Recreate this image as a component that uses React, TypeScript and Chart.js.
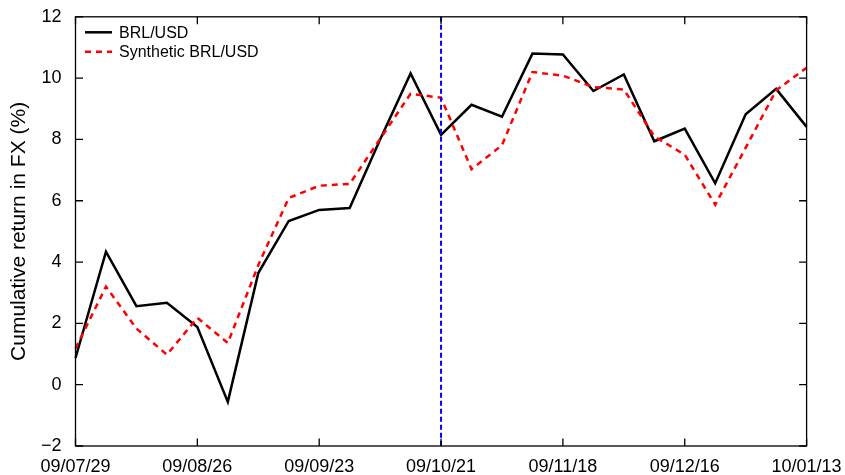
import React, { useEffect, useRef } from 'react';
import { Chart, registerables } from 'chart.js';

Chart.register(...registerables);

const dates = [
  '09/07/29', '09/08/05', '09/08/12', '09/08/19', '09/08/26', '09/09/02', '09/09/09',
  '09/09/16', '09/09/23', '09/09/30', '09/10/07', '09/10/14', '09/10/21', '09/10/28',
  '09/11/04', '09/11/11', '09/11/18', '09/11/25', '09/12/02', '09/12/09', '09/12/16',
  '09/12/23', '09/12/30', '10/01/06', '10/01/13',
];
const tickEvery = 4;

const brlUsd = [
  0.87, 4.34, 2.56, 2.67, 1.88, -0.56, 3.64, 5.34, 5.70, 5.76, 8.0, 10.15, 8.15, 9.13,
  8.74, 10.8, 10.77, 9.58, 10.12, 7.94, 8.35, 6.57, 8.82, 9.65, 8.41,
];
const syntheticBrlUsd = [
  1.18, 3.2, 1.83, 0.98, 2.18, 1.36, 3.9, 6.09, 6.49, 6.55, 8.02, 9.49, 9.36, 7.03,
  7.81, 10.2, 10.08, 9.71, 9.63, 8.1, 7.5, 5.87, 7.73, 9.6, 10.34,
];
const seriesLabels = ['BRL/USD', 'Synthetic BRL/USD'];
const eventDate = '09/10/21';
const yMin = -2;
const yMax = 12;
const yStep = 2;
const yTitle = 'Cumulative return in FX (%)';

const FONT = '"Liberation Sans", Arial, Helvetica, sans-serif';

const framePlugin = {
  id: 'frame',
  afterDatasetsDraw(chart: any) {
    const { ctx, chartArea: a, scales } = chart;
    const xs = scales.x;
    const ys = scales.y;
    ctx.save();
    // event vertical line
    const ex = xs.getPixelForValue(dates.indexOf(eventDate));
    ctx.strokeStyle = '#0000ff';
    ctx.lineWidth = 2;
    ctx.setLineDash([5, 3]);
    ctx.beginPath();
    ctx.moveTo(ex, a.top);
    ctx.lineTo(ex, a.bottom);
    ctx.stroke();
    ctx.setLineDash([]);

    // box
    ctx.strokeStyle = '#000';
    ctx.lineWidth = 1.3;
    ctx.strokeRect(a.left, a.top, a.right - a.left, a.bottom - a.top);

    // inward ticks
    const tl = 7.5;
    ctx.beginPath();
    ys.ticks.forEach((t: any) => {
      const y = ys.getPixelForValue(t.value);
      ctx.moveTo(a.left, y);
      ctx.lineTo(a.left + tl, y);
      ctx.moveTo(a.right, y);
      ctx.lineTo(a.right - tl, y);
    });
    dates.forEach((_, i) => {
      if (i % tickEvery !== 0) return;
      const x = xs.getPixelForValue(i);
      ctx.moveTo(x, a.bottom);
      ctx.lineTo(x, a.bottom - tl);
      ctx.moveTo(x, a.top);
      ctx.lineTo(x, a.top + tl);
    });
    ctx.stroke();

    // legend
    const lx0 = a.left + 9.5;
    const lx1 = a.left + 36.5;
    const tx = a.left + 43.5;
    const rows = [a.top + 15.5, a.top + 35];
    ctx.font = `16px ${FONT}`;
    ctx.textBaseline = 'middle';
    ctx.textAlign = 'left';
    chart.data.datasets.forEach((ds: any, i: number) => {
      const y = rows[i];
      ctx.strokeStyle = ds.borderColor;
      ctx.lineWidth = ds.borderWidth;
      ctx.setLineDash(ds.borderDash || []);
      ctx.beginPath();
      ctx.moveTo(lx0, y);
      ctx.lineTo(lx1, y);
      ctx.stroke();
      ctx.setLineDash([]);
      ctx.fillStyle = '#000';
      ctx.fillText(ds.label, tx, y + 1);
    });
    ctx.restore();
  },
};

export default function App() {
  const ref = useRef<HTMLCanvasElement | null>(null);
  useEffect(() => {
    document.body.style.margin = '0';
    const canvas = ref.current;
    if (!canvas) return;
    const chart = new Chart(canvas, {
      type: 'line',
      data: {
        labels: dates,
        datasets: [
          {
            label: seriesLabels[0],
            data: brlUsd,
            borderColor: '#000000',
            borderWidth: 2.5,
            pointRadius: 0,
            tension: 0,
            fill: false,
            order: 1,
          },
          {
            label: seriesLabels[1],
            data: syntheticBrlUsd,
            borderColor: '#ff0000',
            borderWidth: 2.5,
            borderDash: [6, 5],
            pointRadius: 0,
            tension: 0,
            fill: false,
            order: 0,
          },
        ],
      },
      options: {
        responsive: false,
        animation: false,
        devicePixelRatio: 1,
        layout: { padding: { top: 16, right: 38.4, left: 0, bottom: 0 } },
        plugins: {
          legend: { display: false },
          tooltip: { enabled: false },
        },
        scales: {
          x: {
            type: 'category',
            offset: false,
            grid: { display: false },
            border: { display: false },
            ticks: {
              autoSkip: false,
              maxRotation: 0,
              minRotation: 0,
              padding: 2,
              color: '#000',
              font: { family: FONT, size: 18 },
              callback: (_v: any, i: number) => (i % tickEvery === 0 ? dates[i] : ''),
            },
            afterFit: (s: any) => {
              s.height = 29;
            },
          },
          y: {
            type: 'linear',
            min: yMin,
            max: yMax,
            grid: { display: false },
            border: { display: false },
            ticks: {
              stepSize: yStep,
              padding: 6,
              color: '#000',
              font: { family: FONT, size: 18 },
              callback: (v: any) => (v < 0 ? '\u2212' + Math.abs(v) : String(v)),
            },
            title: {
              display: true,
              text: yTitle,
              color: '#000',
              font: { family: FONT, size: 21 },
              padding: { top: 7, bottom: 0 },
            },
            afterFit: (s: any) => {
              s.width = 75.5;
            },
          },
        },
      },
      plugins: [framePlugin],
    });
    return () => chart.destroy();
  }, []);
  return (
    <div style={{ width: 845, height: 475 }}>
      <canvas ref={ref} width={845} height={475} />
    </div>
  );
}
